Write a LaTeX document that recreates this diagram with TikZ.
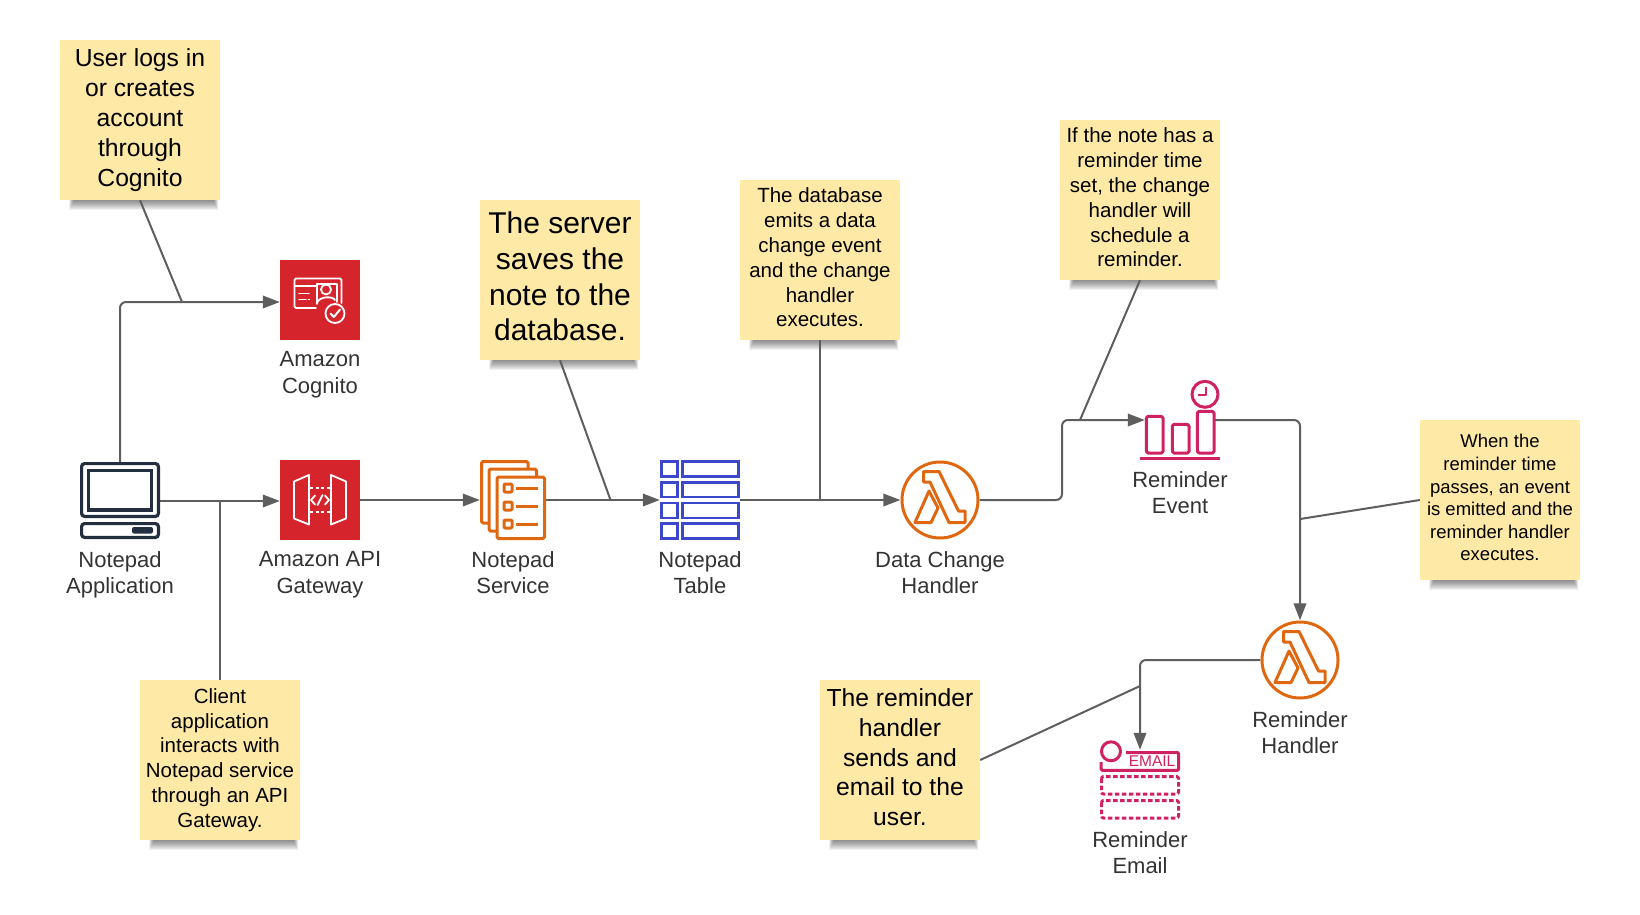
\documentclass[tikz,border=0pt]{standalone}
\usepackage{fontspec}
\setmainfont{Liberation Sans}
\usetikzlibrary{arrows.meta}
\definecolor{notey}{HTML}{FEE9A6}
\definecolor{linec}{HTML}{5E5E5E}
\definecolor{redc}{HTML}{D6242D}
\definecolor{orangec}{HTML}{DF670F}
\definecolor{bluec}{HTML}{3B48CC}
\definecolor{pinkc}{HTML}{CF2263}
\definecolor{navyc}{HTML}{232F3E}
\definecolor{textc}{HTML}{333333}
\newcommand{\lastd}{\rule[-.24em]{0pt}{0pt}}
\newcommand{\noteshadow}[2]{%
  \foreach \k in {1,...,10}{
    \fill[black,opacity=.055] ({#1+14-\k*.5},{#2+150}) rectangle ({#1+153+\k*.5},{#2+160+\k*1.0});
  }}
\tikzset{
  note/.style={rectangle,fill=notey,minimum width=160pt,minimum height=160pt,inner sep=0pt,align=center,text=black},
  nlabel/.style={align=center,inner sep=0pt,text=textc,font=\fontsize{22}{26.7}\selectfont},
  icon/.style={rectangle,inner sep=0pt,minimum width=#1},
  conn/.style={draw=linec,line width=2pt,rounded corners=6pt},
  arr/.style={conn,-{Triangle[length=17pt,width=12.5pt]}},
  wl/.style={draw=white,line width=1.8pt,line join=round,line cap=round},
  ol/.style={draw=orangec,line width=3pt,line join=round},
  bl/.style={draw=bluec,line width=2.8pt},
  pl/.style={draw=pinkc,line width=3pt,line join=round},
  nv/.style={draw=navyc,line width=3.2pt,rounded corners=3pt},
}
\begin{document}
\begin{tikzpicture}[x=1pt,y=-1pt]
\useasboundingbox (0,0) rectangle (1640,914);
% shadows
\noteshadow{60}{40}
\noteshadow{480}{200}
\noteshadow{740}{180}
\noteshadow{1060}{120}
\noteshadow{1420}{420}
\noteshadow{820}{680}
\noteshadow{140}{680}
% notes
\node[note,font=\fontsize{24.7}{30}\selectfont] (n1) at (140,120) {User logs in\\or creates\\account\\through\\Cognito};
\node[note,font=\fontsize{30}{35.7}\selectfont] (n2) at (560,280) {The server\\saves the\\note to the\\database.\lastd};
\node[note,font=\fontsize{20.5}{24.8}\selectfont] (n3) at (820,260) {The database\\emits a data\\change event\\and the change\\handler\\executes.\lastd};
\node[note,font=\fontsize{20.5}{24.8}\selectfont] (n4) at (1140,200) {If the note has a\\reminder time\\set, the change\\handler will\\schedule a\\reminder.\lastd};
\node[note,font=\fontsize{18.5}{22.6}\selectfont] (n5) at (1500,500) {When the\\reminder time\\passes, an event\\is emitted and the\\reminder handler\\executes.\lastd};
\node[note,font=\fontsize{24.7}{29.8}\selectfont] (n6) at (900,760) {The reminder\\handler\\sends and\\email to the\\user.\lastd};
\node[note,font=\fontsize{20.5}{24.8}\selectfont] (n7) at (220,760) {Client\\application\\interacts with\\Notepad service\\through an API\\Gateway.};
% icon anchors
\node[icon=80pt,minimum height=78pt] (comp) at (120,501) {};
\node[icon=80pt,minimum height=80pt] (cog) at (320,300) {};
\node[icon=80pt,minimum height=80pt] (gw) at (320,500) {};
\node[icon=65pt,minimum height=80pt] (svc) at (512.5,500) {};
\node[icon=80pt,minimum height=80pt] (tbl) at (700,500) {};
\node[icon=79pt,minimum height=79pt] (dch) at (940,500) {};
\node[icon=70pt,minimum height=42pt] (evt) at (1180,420) {};
\node[icon=79pt,minimum height=79pt] (rh) at (1300,660) {};
\node[icon=80pt,minimum height=80pt] (em) at (1140,790) {};
% junctions
\coordinate (j1) at (182,302);
\coordinate (j2) at (220,501);
\coordinate (j3) at (610.5,500);
\coordinate (j4) at (820,500);
\coordinate (j5) at (1080,420);
\coordinate (j6) at (1300,519);
\coordinate (j7) at (1140,686);
% connectors
\draw[arr] (comp.north) |- (cog.west|-j1);
\draw[arr] (comp.east) -- (gw.west|-comp.east);
\draw[arr] (gw.east) -- (svc.west);
\draw[arr] (svc.east) -- (tbl.west);
\draw[arr] (tbl.east) -- (dch.west);
\draw[arr] (dch.east) -- (1062,500) -- (1062,420) -- (evt.west);
\draw[arr] (evt.east) -- (1300,420) -- (rh.north);
\draw[arr] (rh.west) -- (1140,660) -- (em.north);
\draw[conn] (n1.south) -- (j1);
\draw[conn] (n7.north) -- (j2);
\draw[conn] (n2.south) -- (j3);
\draw[conn] (n3.south) -- (j4);
\draw[conn] (n4.south) -- (j5);
\draw[conn] (n5.west) -- (j6);
\draw[conn] (n6.east) -- (j7);
% computer
\draw[nv] (81.6,463.6) rectangle (158.4,516.4);
\draw[draw=navyc,line width=3.2pt] (88.6,470.6) rectangle (151.4,510);
\draw[nv] (81.6,523.6) rectangle (158.4,537.4);
\fill[navyc,rounded corners=2pt] (132,527) rectangle (153,533.5);
% cognito
\fill[redc] (280,260) rectangle (360,340);
\draw[wl,rounded corners=1.5pt] (316,308) -- (294.5,308) -- (294.5,278.5) -- (341.5,278.5) -- (341.5,303);
\draw[wl] (294.5,286) -- (316,286);
\draw[wl] (299,293.5) -- (309,293.5) (299,299.5) -- (306,299.5) (308.5,299.5) -- (309.5,299.5);
\draw[wl] (317,304) -- (317,284) -- (337,284) -- (337,302);
\draw[wl] (326,289.5) circle (5);
\draw[wl] (317,303) .. controls (319,296) and (333,296) .. (335,300);
\draw[wl,fill=redc] (335,313.5) circle (9.5);
\draw[wl,line width=2pt] (330.5,313.5) -- (333.8,317) -- (340,309.5);
% gateway
\fill[redc] (280,460) rectangle (360,540);
\draw[wl] (294,481.5) -- (309,475) -- (309,524.5) -- (294,518.5) -- cycle;
\draw[wl] (346,481.5) -- (331,475) -- (331,524.5) -- (346,518.5) -- cycle;
\draw[wl,line cap=butt,dash pattern=on 3pt off 2.5pt] (310,488) -- (330,488) (310,512) -- (330,512);
\draw[wl] (315,495.5) -- (311,500) -- (315,504.5) (325,495.5) -- (329,500) -- (325,504.5) (322.5,495) -- (317.5,505);
% service
\draw[ol,fill=white,rounded corners=1.5pt] (481.5,461.5) rectangle (528,523);
\draw[ol,fill=white,rounded corners=1.5pt] (489,469) rectangle (536.5,531);
\draw[ol,fill=white,rounded corners=1.5pt] (497,477) rectangle (544.5,538.5);
\foreach \yy in {488,506,524}{
  \draw[ol,rounded corners=1pt] (504,\yy-4) rectangle (512,\yy+4);
  \draw[ol] (516,\yy) -- (538,\yy);
}
% table
\foreach \ya/\yb in {461.4/476.6,482.4/497,503/518,523.4/538.6}{
  \draw[bl] (661.4,\ya) rectangle (677.6,\yb);
  \draw[bl] (682.4,\ya) rectangle (738.6,\yb);
}
% data change lambda
\draw[ol] (940,500) circle (38);
\draw[ol] (923.5,471.5) -- (939,471.5) -- (958.5,511) -- (965,511) -- (965,522.5) -- (949,522.5) -- (930,482) -- (923.5,482) -- cycle;
\draw[ol] (929,491) -- (938,508) -- (931,522.5) -- (915,522.5) -- cycle;
% event
\draw[pl,rounded corners=1.5pt] (1146.4,416.4) rectangle (1163,453);
\draw[pl,rounded corners=1.5pt] (1172.4,424.4) rectangle (1189,453);
\draw[pl,rounded corners=1.5pt] (1197.4,411.4) rectangle (1214,453);
\draw[pl] (1140,458) -- (1220,458);
\draw[pl] (1205,394.3) circle (13);
\draw[pl,line width=2pt] (1206,387) -- (1206,395) -- (1198,395);
% reminder handler lambda
\draw[ol] (1300,660) circle (38);
\draw[ol] (1283.5,631.5) -- (1299,631.5) -- (1318.5,671) -- (1325,671) -- (1325,682.5) -- (1309,682.5) -- (1290,642) -- (1283.5,642) -- cycle;
\draw[ol] (1289,651) -- (1298,668) -- (1291,682.5) -- (1275,682.5) -- cycle;
% email
\draw[pl] (1111,751.3) circle (9.5);
\draw[pl,rounded corners=1pt] (1126,752.5) -- (1178.5,752.5) -- (1178.5,770.3) -- (1101.2,770.3) -- (1101.2,762);
\node[inner sep=0pt,text=pinkc,font=\fontsize{15.5}{15.5}\selectfont] (emt) at (1152,761.5) {EMAIL};
\draw[pl,rounded corners=2pt,dash pattern=on 4.5pt off 2.5pt] (1101.5,776.5) rectangle (1178.5,794);
\draw[pl,rounded corners=2pt,dash pattern=on 4.5pt off 2.5pt] (1101.5,800.5) rectangle (1178.5,818);
% labels
\node[nlabel] (l1) at (120,575.3) {Notepad\\Application\lastd};
\node[nlabel] (l2) at (320,375.3) {Amazon\\Cognito\lastd};
\node[nlabel] (l3) at (320,575.3) {Amazon API\\Gateway\lastd};
\node[nlabel] (l4) at (513,575.3) {Notepad\\Service\lastd};
\node[nlabel] (l5) at (700,575.3) {Notepad\\Table\lastd};
\node[nlabel] (l6) at (940,575.3) {Data Change\\Handler\lastd};
\node[nlabel] (l7) at (1180,495.3) {Reminder\\Event\lastd};
\node[nlabel] (l8) at (1300,735.3) {Reminder\\Handler\lastd};
\node[nlabel] (l9) at (1140,855.3) {Reminder\\Email\lastd};
\end{tikzpicture}
\end{document}
